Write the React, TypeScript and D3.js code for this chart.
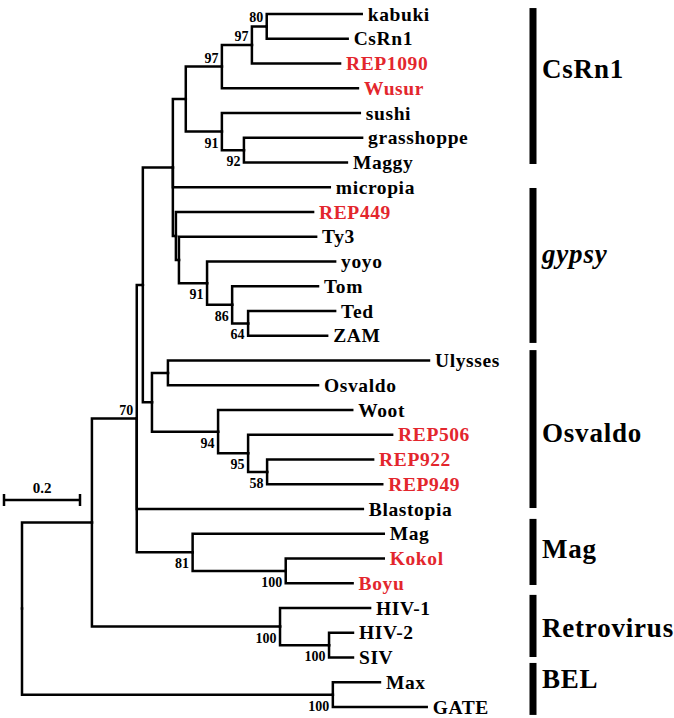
import React from "react";
import * as d3 from "d3";

// Tree edges: [child, parent, branch length (substitutions/site)]
const edges: [string, string, number][] = [
  ["root", "", 0],
  ["A", "root", 0.184],
  ["B", "A", 0.118],
  ["C", "B", 0.016],
  ["D", "C", 0.079],
  ["E", "D", 0.034],
  ["F", "E", 0.095],
  ["G", "F", 0.079],
  ["H", "G", 0.039],
  ["kabuki", "H", 0.25],
  ["CsRn1", "H", 0.213],
  ["REP1090", "G", 0.232],
  ["Wusur", "F", 0.358],
  ["I", "E", 0.095],
  ["sushi", "I", 0.363],
  ["J", "I", 0.058],
  ["grasshoppe", "J", 0.311],
  ["Maggy", "J", 0.271],
  ["micropia", "D", 0.413],
  ["K", "D", 0.008],
  ["REP449", "K", 0.361],
  ["L", "K", 0.008],
  ["Ty3", "L", 0.361],
  ["M", "L", 0.074],
  ["yoyo", "M", 0.337],
  ["N", "M", 0.066],
  ["Tom", "N", 0.226],
  ["O", "N", 0.042],
  ["Ted", "O", 0.229],
  ["ZAM", "O", 0.208],
  ["P", "C", 0.024],
  ["Q", "P", 0.042],
  ["Ulysses", "Q", 0.687],
  ["Osvaldo", "Q", 0.395],
  ["R", "P", 0.174],
  ["Woot", "R", 0.353],
  ["S", "R", 0.079],
  ["REP506", "S", 0.379],
  ["T", "S", 0.05],
  ["REP922", "T", 0.279],
  ["REP949", "T", 0.303],
  ["Blastopia", "B", 0.595],
  ["U", "B", 0.147],
  ["Mag", "U", 0.503],
  ["V", "U", 0.245],
  ["Kokol", "V", 0.258],
  ["Boyu", "V", 0.176],
  ["W", "A", 0.495],
  ["HIV-1", "W", 0.237],
  ["X", "W", 0.129],
  ["HIV-2", "X", 0.063],
  ["SIV", "X", 0.063],
  ["Y", "root", 0.818],
  ["Max", "Y", 0.124],
  ["GATE", "Y", 0.247],
];

// Bootstrap support: [node, value]
const supports: [string, number][] = [
  ["H", 80], ["G", 97], ["F", 97], ["I", 91], ["J", 92], ["B", 70],
  ["M", 91], ["N", 86], ["O", 64], ["R", 94], ["S", 95], ["T", 58],
  ["U", 81], ["V", 100], ["W", 100], ["X", 100], ["Y", 100],
];
const supportsAbove = ["H", "G", "F", "B"];

// Newly identified elements (shown in red)
const highlighted = ["REP1090", "Wusur", "REP449", "REP506", "REP922", "REP949", "Kokol", "Boyu"];

// Clades: [label, italic]
const clades: [string, boolean][] = [
  ["CsRn1", false], ["gypsy", true], ["Osvaldo", false],
  ["Mag", false], ["Retrovirus", false], ["BEL", false],
];
// Clade bar extent and label position in leaf-index units: [top, bottom, labelBaseline]
const cladeExtent: [number, number, number][] = [
  [-0.24, 6.06, 2.59],
  [7.03, 13.29, 10.06],
  [13.58, 19.96, 17.29],
  [20.4, 23.07, 21.98],
  [23.47, 25.98, 25.17],
  [26.22, 28.32, 27.23],
];

const scaleBarValue = 0.2;

const RED = "#e3262d";
const FONT = "'Liberation Serif', 'Times New Roman', serif";

export default function App() {
  const width = 674, height = 718;
  const root: any = d3.stratify<[string, string, number]>()
    .id((d) => d[0])
    .parentId((d) => d[1])(edges);

  root.eachBefore((n: any) => {
    n.dist = n.parent ? n.parent.dist + n.data[2] : 0;
  });
  let li = 0;
  root.eachBefore((n: any) => {
    if (!n.children) n.leafIndex = li++;
  });
  const nLeaves = li;
  const y = d3.scaleLinear().domain([0, nLeaves - 1]).range([14, 707]);
  const x = d3.scaleLinear().domain([0, 1]).range([22, 402]);
  root.eachAfter((n: any) => {
    if (!n.children) n.py = y(n.leafIndex);
    else n.py = (n.children[0].py + n.children[n.children.length - 1].py) / 2;
  });

  const nodes: any[] = root.descendants();
  const byId = new Map(nodes.map((n) => [n.id, n]));
  const leaves = nodes.filter((n) => !n.children);
  const links = nodes.filter((n) => n.parent);

  const sbX0 = 4;
  const sbX1 = sbX0 + (x(scaleBarValue) - x(0));
  const sbY = 500;

  return (
    <svg width={width} height={height} style={{ position: "absolute", left: 0, top: 0, background: "#fff" }}
      fontFamily={FONT} fontWeight="bold">
      <g fill="none" stroke="#000" strokeWidth={2.5} strokeLinecap="square" strokeLinejoin="miter">
        {links.map((n) => (
          <path key={n.id}
            d={`M${x(n.parent.dist)},${n.parent.py}V${n.py}H${x(n.dist)}`} />
        ))}
      </g>
      {leaves.map((n) => (
        <text key={n.id} x={x(n.dist) + 6} y={n.py + 6.5} fontSize={19.5} letterSpacing={0.6}
          fill={highlighted.includes(n.id) ? RED : "#000"}>{n.id}</text>
      ))}
      {supports.map(([id, v]) => {
        const n: any = byId.get(id);
        const above = supportsAbove.includes(id);
        return (
          <text key={id} x={x(n.dist) - 3.5} y={above ? n.py - 4 : n.py + 16}
            fontSize={14} textAnchor="end">{v}</text>
        );
      })}
      <g stroke="#000" strokeWidth={2.5}>
        <line x1={sbX0} x2={sbX1} y1={sbY} y2={sbY} />
        <line x1={sbX0} x2={sbX0} y1={sbY - 6} y2={sbY + 6} />
        <line x1={sbX1} x2={sbX1} y1={sbY - 6} y2={sbY + 6} />
      </g>
      <text x={(sbX0 + sbX1) / 2} y={sbY - 7} fontSize={15} textAnchor="middle">{scaleBarValue}</text>
      {clades.map(([name, italic], i) => {
        const [t, b, l] = cladeExtent[i];
        return (
          <g key={name}>
            <rect x={529.5} y={y(t)} width={7} height={y(b) - y(t)} fill="#000" />
            <text x={542} y={y(l)} fontSize={27} letterSpacing={0.8}
              fontStyle={italic ? "italic" : "normal"}>{name}</text>
          </g>
        );
      })}
    </svg>
  );
}
